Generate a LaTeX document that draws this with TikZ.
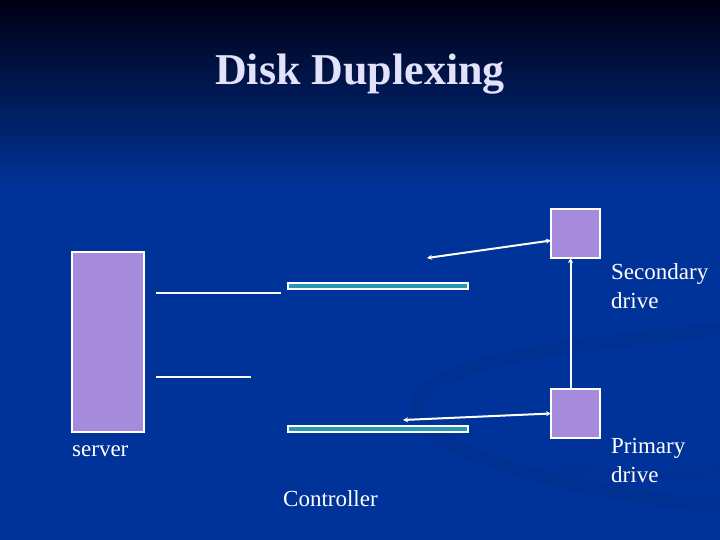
\documentclass[tikz,border=0pt]{standalone}
\usepackage{fontspec}
\setmainfont{Liberation Serif}
\usetikzlibrary{arrows.meta}
\definecolor{bgblue}{RGB}{0,51,153}
\definecolor{bgtop}{RGB}{0,0,18}
\definecolor{boxfill}{RGB}{166,138,220}
\definecolor{barfill}{RGB}{40,150,180}
\definecolor{titlecol}{RGB}{226,226,250}
\tikzset{
  unit/.style={draw=white, line width=2pt, fill=boxfill, inner sep=0pt, outer sep=0pt, anchor=north west},
  bar/.style={draw=white, line width=1.5pt, fill=barfill, inner sep=0pt, outer sep=0pt, anchor=north west, minimum width=180pt, minimum height=6pt},
  wire/.style={draw=white, line width=2pt},
  link/.style={draw=white, line width=2pt, arrows={-Stealth[length=5pt,width=5pt]}},
  dlink/.style={draw=white, line width=2pt, arrows={Stealth[length=5pt,width=5pt]-Stealth[length=5pt,width=5pt]}},
  lbl/.style={text=white, font=\fontsize{23}{29}\selectfont, inner sep=0pt, align=left, anchor=base west}
}
\begin{document}
\begin{tikzpicture}[x=1pt,y=-1pt]
\useasboundingbox (0,0) rectangle (720,540);
\fill[bgblue] (0,0) rectangle (720,540);
\shade[top color=bgtop, bottom color=bgblue] (0,0) rectangle (720,190);
% faint background swoosh
\draw[line width=14pt, bgblue!70!black, opacity=0.15]
  (720,330) .. controls (560,345) and (410,365) .. (418,410)
  .. controls (425,460) and (620,500) .. (720,505);
\draw[line width=8pt, bgblue!70!black, opacity=0.12]
  (720,470) .. controls (660,480) and (600,470) .. (560,470);
% title
\node[text=titlecol, font=\fontsize{44}{50}\bfseries\selectfont, anchor=base] (title) at (360,85) {Disk Duplexing};
% server
\node[unit, minimum width=72pt, minimum height=180pt] (server) at (72,252) {};
\coordinate (w1a) at (156,293); \coordinate (w1b) at (281,293);
\coordinate (w2a) at (156,377); \coordinate (w2b) at (251,377);
\draw[wire] (w1a) -- (w1b);
\draw[wire] (w2a) -- (w2b);
% controller bars
\node[bar] (bar1) at (288,283) {};
\node[bar] (bar2) at (288,426) {};
% drives
\node[unit, minimum width=49pt, minimum height=49pt] (sec) at (551,209) {};
\node[unit, minimum width=49pt, minimum height=49pt] (prim) at (551,389) {};
\draw[link] ([xshift=-5pt]prim.north) -- ([xshift=-5pt]sec.south);
\coordinate (a1) at (427,258);
\coordinate (a2) at (403,420);
\draw[dlink] (a1) -- ([yshift=-7pt]sec.west);
\draw[dlink] (a2) -- (prim.west);
% labels
\node[lbl] (seclbl) at (611,308) {Secondary\\drive};
\node[lbl] (primlbl) at (611,482) {Primary\\drive};
\node[lbl] (serverlbl) at (72,456) {server};
\node[lbl] (ctrllbl) at (283,506) {Controller};
\end{tikzpicture}
\end{document}
